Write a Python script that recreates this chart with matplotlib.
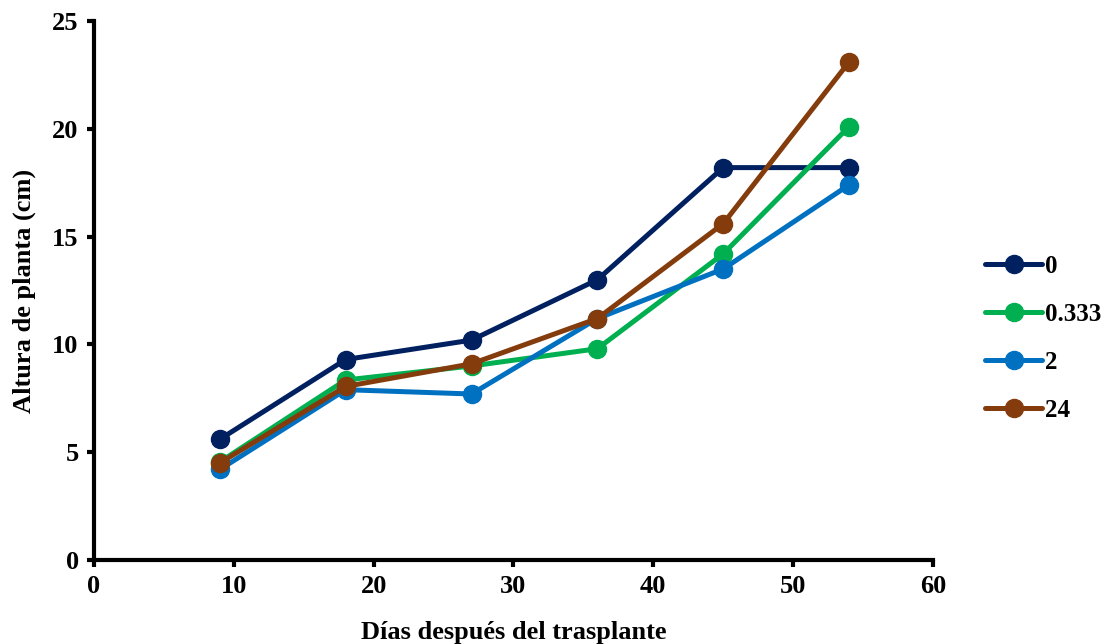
import matplotlib.pyplot as plt

dias = [9, 18, 27, 36, 45, 54]
serie_0 = [5.6, 9.3, 10.2, 13.0, 18.2, 18.2]
serie_0333 = [4.55, 8.35, 9.0, 9.8, 14.2, 20.1]
serie_2 = [4.2, 7.9, 7.7, 11.2, 13.5, 17.4]
serie_24 = [4.5, 8.05, 9.1, 11.2, 15.6, 23.1]
etiquetas = ["0", "0.333", "2", "24"]
colores = ["#002060", "#00B050", "#0070C0", "#843C0C"]

plt.rcParams['font.family'] = ['Liberation Serif', 'DejaVu Serif']
plt.rcParams['font.weight'] = 'bold'

fig = plt.figure(figsize=(11.1, 6.44), dpi=100)
ax = fig.add_axes([0.0847, 0.1304, 0.7558, 0.837])

for serie, etiqueta, color in zip([serie_0, serie_0333, serie_2, serie_24],
                                  etiquetas, colores):
    ax.plot(dias, serie, color=color, label=etiqueta, linewidth=3.6,
            marker='o', markersize=13, solid_capstyle='round')

ax.set_xlim(0, 60)
ax.set_ylim(0, 25)
ax.set_xticks(range(0, 61, 10))
ax.set_yticks(range(0, 26, 5))
for lado in ['top', 'right']:
    ax.spines[lado].set_visible(False)
for lado in ['left', 'bottom']:
    ax.spines[lado].set_linewidth(3)
ax.tick_params(direction='out', length=5, width=3, labelsize=19, pad=6)
for t in ax.get_xticklabels() + ax.get_yticklabels():
    t.set_fontweight('bold')

ax.set_xlabel("Días después del trasplante", fontsize=19, fontweight='bold',
              labelpad=16)
ax.set_ylabel("Altura de planta (cm)", fontsize=19, fontweight='bold',
              labelpad=12)

leg = ax.legend(loc='center left', bbox_to_anchor=(1.062, 0.411),
                frameon=False, fontsize=18, handlelength=2.3,
                handletextpad=0.1, labelspacing=1.0,
                borderaxespad=0, borderpad=0)
for t in leg.get_texts():
    t.set_fontweight('bold')

fig.savefig("out.png", dpi=100)
